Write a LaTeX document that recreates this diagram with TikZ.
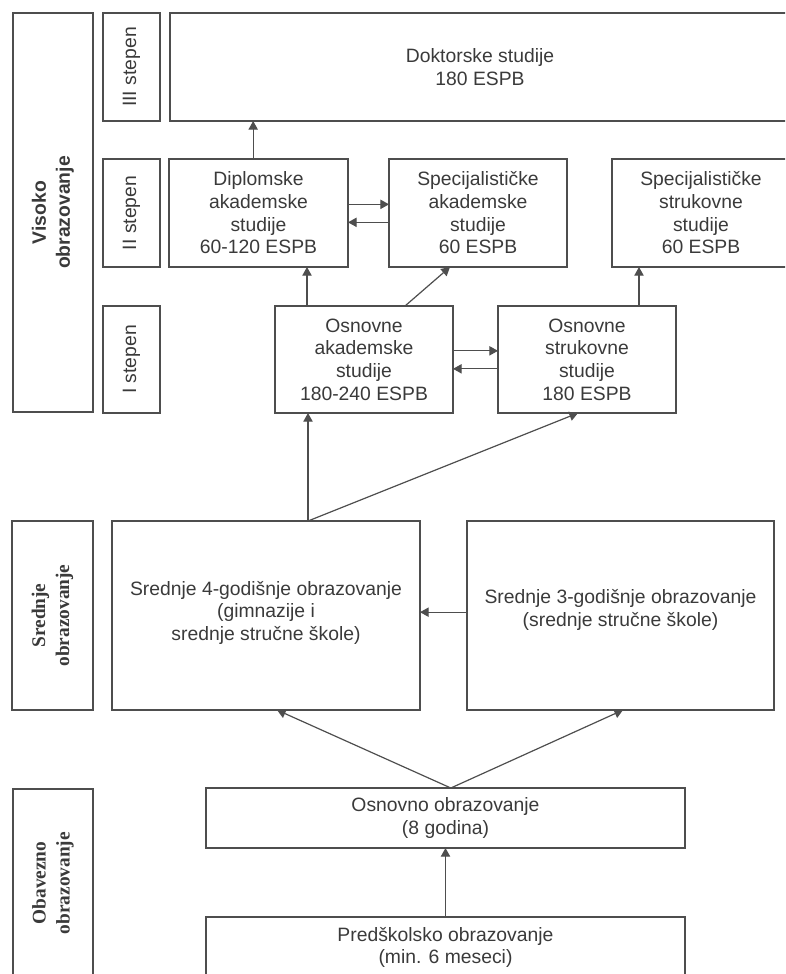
\documentclass[tikz,border=0pt]{standalone}
\usepackage{fontspec}
\setmainfont{Liberation Sans}
\newfontfamily\serifnivo{Liberation Serif}
\usetikzlibrary{arrows.meta, positioning, calc}
\definecolor{okvir}{RGB}{78,78,78}
\definecolor{tekst}{RGB}{58,58,58}

\tikzset{
  kutija/.style={draw=okvir, line width=1.3pt, inner sep=0pt, outer sep=0pt,
    align=center, text=tekst, font=\fontsize{14.5}{17}\selectfont},
  nivo/.style={kutija, rotate=90, font=\fontsize{14.5}{18}\selectfont\bfseries},
  stepenbox/.style={kutija, rotate=90, minimum width=81pt, minimum height=42.75pt},
  strelica/.style={-{Triangle[length=6.5pt,width=7pt]}, line width=0.9pt, draw=okvir},
}

\begin{document}
\begin{tikzpicture}[x=0.75pt,y=-0.75pt]
    \clip (0,0) rectangle (785,974);
    % Visoko obrazovanje
    \node[nivo, minimum width=299.25pt, minimum height=60pt] (visoko) at (53,212.5) {Visoko\\obrazovanje};
    \node[stepenbox] (stepen3) at (131.5,67) {III stepen};
    \node[stepenbox] (stepen2) at (131.5,213) {II stepen};
    \node[stepenbox, minimum width=80.25pt] (stepen1) at (131.5,359.5) {I stepen};
    \node[kutija, minimum width=465pt, minimum height=81pt] (dokt) at (480,67) {Doktorske studije\\180 ESPB};
    \node[kutija, minimum width=134.25pt, minimum height=81pt] (dipl) at (258.5,213) {Diplomske\\akademske\\studije\\60-120 ESPB};
    \node[kutija, minimum width=133.5pt, minimum height=81pt] (specak) at (478,213) {Specijalističke\\akademske\\studije\\60 ESPB};
    \node[kutija, minimum width=133.5pt, minimum height=81pt] (specstr) at (701,213) {Specijalističke\\strukovne\\studije\\60 ESPB};
    \node[kutija, minimum width=133.5pt, minimum height=80.25pt] (osnak) at (364,359.5) {Osnovne\\akademske\\studije\\180-240 ESPB};
    \node[kutija, minimum width=133.5pt, minimum height=80.25pt] (osnstr) at (587,359.5) {Osnovne\\strukovne\\studije\\180 ESPB};
    % Srednje obrazovanje
    \node[nivo, font=\fontsize{14.5}{18}\selectfont\serifnivo\bfseries, minimum width=141.75pt, minimum height=60.75pt] (srednje) at (52.5,615.5) {Srednje\\obrazovanje};
    \node[kutija, minimum width=231pt, minimum height=141.75pt] (sr4) at (266,615.5) {Srednje 4-godišnje obrazovanje\\(gimnazije i\\srednje stručne škole)\\[-10pt]};
    \node[kutija, minimum width=230.25pt, minimum height=141.75pt] (sr3) at (620.5,615.5) {Srednje 3-godišnje obrazovanje\\(srednje stručne škole)\\[-5.8pt]};
    % Obavezno obrazovanje
    \node[nivo, font=\fontsize{14.5}{18}\selectfont\serifnivo\bfseries, minimum width=141pt, minimum height=60pt] (obavezno) at (53,883) {Obavezno\\obrazovanje};
    \node[kutija, minimum width=359.25pt, minimum height=45pt] (osnovno) at (445.5,818) {Osnovno obrazovanje\\(8 godina)};
    \node[kutija, minimum width=359.25pt, minimum height=45.75pt] (predsk) at (445.5,947.5) {Predškolsko obrazovanje\\(min. 6 meseci)};

    % strelice
    \draw[strelica] ([xshift=-4pt]dipl.north) -- ([xshift=-4pt]dipl.north |- dokt.south);
    \draw[strelica] ([yshift=6.5pt]dipl.east) -- ([yshift=6.5pt]specak.west);
    \draw[strelica] ([yshift=-7pt]specak.west) -- ([yshift=-7pt]dipl.east);
    \draw[strelica] ([xshift=-42.75pt]osnak.north) -- ([xshift=-42.75pt]osnak.north |- dipl.south);
    \draw[strelica] ([xshift=30.75pt]osnak.north) -- ([xshift=-21pt]specak.south);
    \draw[strelica] ([xshift=39pt]osnstr.north) -- ([xshift=39pt]osnstr.north |- specstr.south);
    \draw[strelica] ([yshift=6.5pt]osnak.east) -- ([yshift=6.5pt]osnstr.west);
    \draw[strelica] ([yshift=-7pt]osnstr.west) -- ([yshift=-7pt]osnak.east);
    \coordinate (srgore) at ([xshift=31.5pt]sr4.north);
    \draw[strelica] (srgore) -- (srgore |- osnak.south);
    \draw[strelica] (srgore) -- ([xshift=-6.75pt]osnstr.south);
    \draw[strelica] ([yshift=2.5pt]sr3.west) -- ([yshift=2.5pt]sr4.east);
    \coordinate (osgore) at ([xshift=4pt]osnovno.north);
    \draw[strelica] (osgore) -- ([xshift=8.25pt]sr4.south);
    \draw[strelica] (osgore) -- ([xshift=1.9pt]sr3.south);
    \draw[strelica] (predsk.north) -- (osnovno.south);
\end{tikzpicture}
\end{document}
